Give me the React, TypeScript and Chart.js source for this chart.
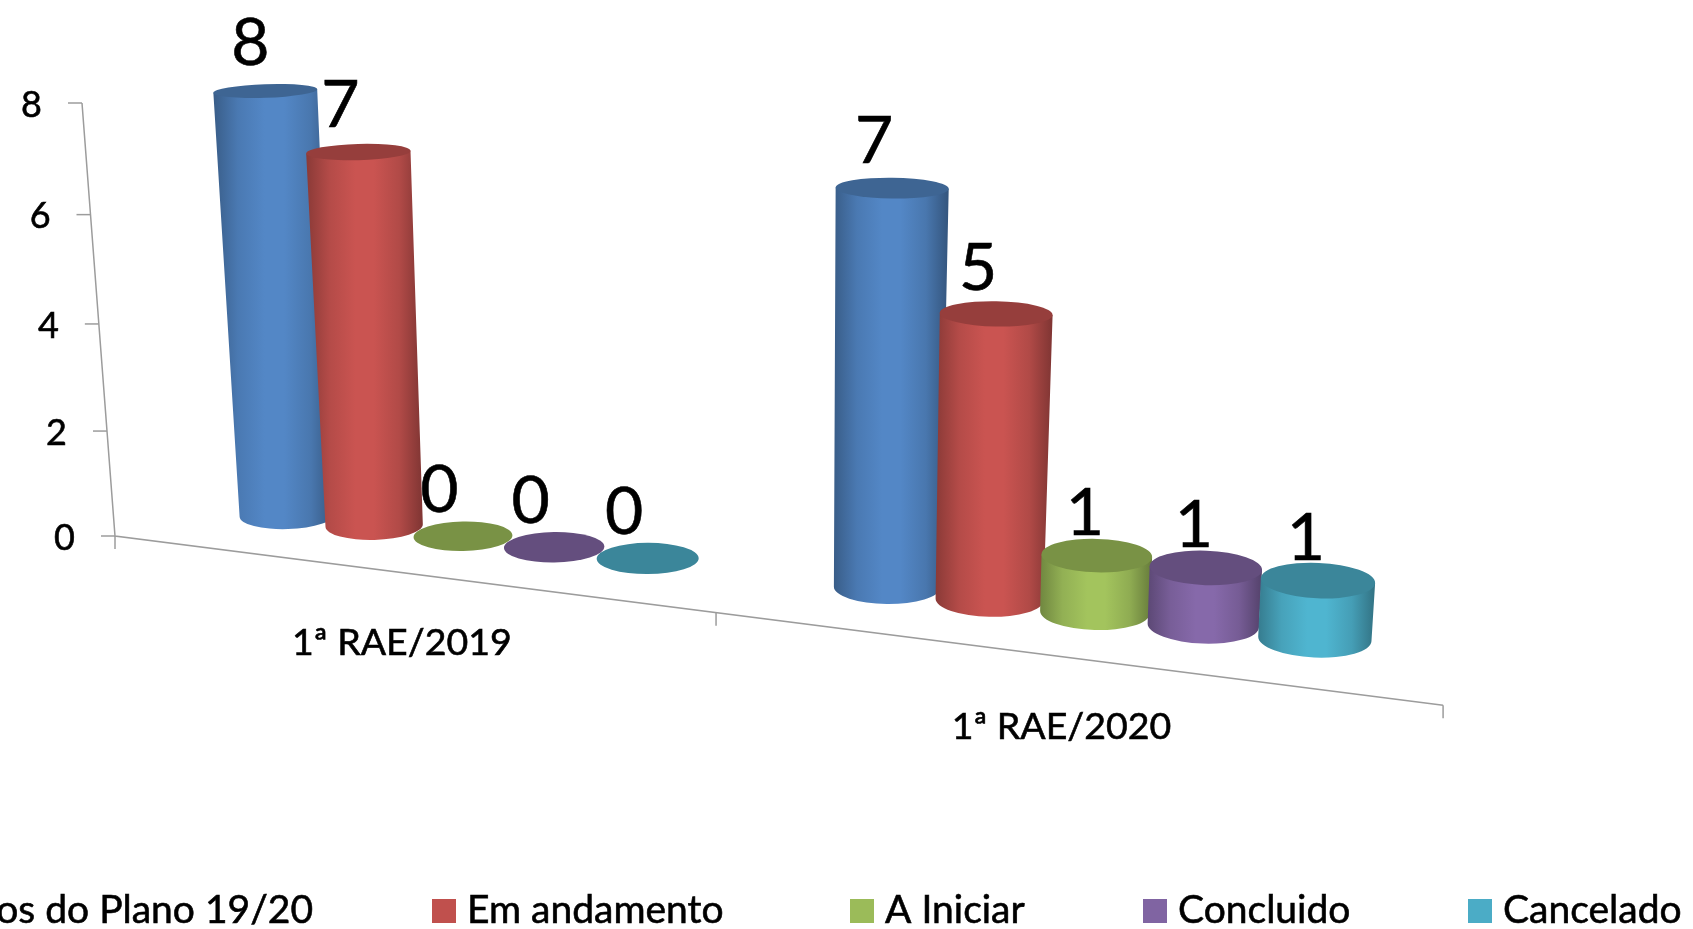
import React, { useEffect, useRef } from "react";
import { Chart, registerables } from "chart.js";

Chart.register(...registerables);

const categories = ["1ª RAE/2019", "1ª RAE/2020"];
const seriesNames = ["Projetos do Plano 19/20", "Em andamento", "A Iniciar", "Concluido", "Cancelado"];
const totalPlano = [8, 7];
const emAndamento = [7, 5];
const aIniciar = [0, 1];
const concluido = [0, 1];
const cancelado = [0, 1];
const seriesColors = ["#4F81BD", "#C0504D", "#9BBB59", "#8064A2", "#4BACC6"];
const yTicksMax = 8;
const yTickStep = 2;

const FONT = "Lato, Carlito, sans-serif";
const AXIS_COLOR = "#9C9C9C";

function shade(hex: string, f: number) {
  const n = parseInt(hex.slice(1), 16);
  const c = [(n >> 16) & 255, (n >> 8) & 255, n & 255].map((v) => Math.max(0, Math.min(255, Math.round(v * f))));
  return `rgb(${c[0]},${c[1]},${c[2]})`;
}

// Perspective of the 3-D view, applied to what the Chart.js scales give.
const persp = (v: number) => v / (1 + 0.042 * (1 - v / 8));
const axisX = (u: number) => (1078 * u + 115) / (1 - 0.1733 * u);
const axisY = (x: number) => 536 + 0.1275 * (x - 115);
const floorX = (u: number) => (1040.2 * u + 184.6) / (1 - 0.1585 * u);
const floorY = (x: number) => 515 + 0.1205 * (x - 287);
const unitH = (x: number) => 53.0 + 0.0072 * (x - 287);
const lean = (x: number) => -3.8 + 0.0059 * (x - 115);
const radX = (x: number, v: number) => 45.5 + 0.0085 * x + 0.5 * v;
const radY = (x: number, v: number) => 14 + 0.0045 * (x - 287) - 0.9 * v;
const tilt = (x: number) => ((-2 + (4.5 / 1053) * (x - 265)) * Math.PI) / 180;
const labelShift = (d: number) => (d === 0 ? -23.5 : d === 1 ? -12 : d === 8 ? -15 : -18);
const labelLift = (v: number) => (v === 0 ? 24 : 20 + 0.75 * v);

function drawCylinder(ctx: CanvasRenderingContext2D, u: number, v: number, color: string) {
  const bx = floorX(u);
  const by = floorY(bx);
  const p = persp(v);
  const tx = bx + lean(bx) * p;
  const ty = by - unitH(bx) * p;
  const a = tilt(bx);
  const rxT = radX(bx, v);
  const rxB = radX(bx, 0);
  const ryT = radY(bx, v);
  const ryB = radY(bx, 0);
  if (v > 0) {
    const left = Math.min(bx - rxB, tx - rxT);
    const right = Math.max(bx + rxB, tx + rxT);
    const g = ctx.createLinearGradient(left, 0, right, 0);
    g.addColorStop(0, shade(color, 0.72));
    g.addColorStop(0.2, shade(color, 0.94));
    g.addColorStop(0.42, shade(color, 1.05));
    g.addColorStop(0.58, shade(color, 1.05));
    g.addColorStop(0.8, shade(color, 0.92));
    g.addColorStop(1, shade(color, 0.66));
    ctx.beginPath();
    ctx.moveTo(tx + rxT * Math.cos(a), ty + rxT * Math.sin(a));
    ctx.lineTo(bx + rxB * Math.cos(a), by + rxB * Math.sin(a));
    ctx.ellipse(bx, by, rxB, ryB, a, 0, Math.PI, false);
    ctx.lineTo(tx - rxT * Math.cos(a), ty - rxT * Math.sin(a));
    ctx.closePath();
    ctx.fillStyle = g;
    ctx.fill();
  }
  ctx.beginPath();
  ctx.ellipse(tx, ty, rxT, ryT, a, 0, Math.PI * 2);
  ctx.fillStyle = shade(color, 0.78);
  ctx.fill();
  return { tx, ty };
}

function text(ctx: CanvasRenderingContext2D, s: string, x: number, y: number) {
  ctx.lineWidth = 0.6;
  ctx.strokeStyle = "#000";
  ctx.strokeText(s, x, y);
  ctx.fillStyle = "#000";
  ctx.fillText(s, x, y);
}

const perspectivePlugin = {
  id: "perspective",
  beforeDatasetsDraw(chart: any) {
    const ctx: CanvasRenderingContext2D = chart.ctx;
    const { left, right } = chart.chartArea;
    const yScale = chart.scales.y;
    const xScale = chart.scales.x;
    const toU = (px: number) => (px - left) / (right - left);
    const labels: { text: string; x: number; y: number }[] = [];

    ctx.save();
    // axes
    const axisStroke = () => {
      ctx.strokeStyle = AXIS_COLOR;
      ctx.lineWidth = 1.5;
    };
    axisStroke();
    const yPt = (v: number) => ({ x: 115 - (33 / 8) * persp(v), y: 536 - 54.125 * persp(v) });
    const top = yPt(yScale.max);
    const zero = yPt(0);
    ctx.beginPath();
    ctx.moveTo(top.x, top.y);
    ctx.lineTo(zero.x, zero.y);
    const endX = axisX(1);
    ctx.lineTo(endX, axisY(endX));
    ctx.stroke();

    ctx.textBaseline = "middle";
    ctx.textAlign = "right";
    ctx.font = `36px ${FONT}`;
    yScale.ticks.forEach((t: any) => {
      const p = yPt(t.value);
      axisStroke();
      ctx.beginPath();
      ctx.moveTo(p.x - 14, p.y);
      ctx.lineTo(p.x, p.y);
      ctx.stroke();
      text(ctx, String(t.value), p.x - 40, p.y + 2);
    });

    // category ticks and labels
    ctx.textAlign = "center";
    [0, 0.5, 1].forEach((u) => {
      const x = axisX(u);
      axisStroke();
      ctx.beginPath();
      ctx.moveTo(x, axisY(x));
      ctx.lineTo(x, axisY(x) + 13);
      ctx.stroke();
    });
    ctx.font = `37.5px ${FONT}`;
    chart.data.labels.forEach((name: string, i: number) => {
      const x = axisX(toU(xScale.getPixelForTick(i)));
      text(ctx, name, x, axisY(x) + 70);
    });

    // cylinders, left to right
    chart.data.labels.forEach((_: string, j: number) => {
      chart.data.datasets.forEach((ds: any, i: number) => {
        const bar = chart.getDatasetMeta(i).data[j];
        const v = yScale.getValueForPixel(bar.y);
        const { tx, ty } = drawCylinder(ctx, toU(bar.x), v, ds.backgroundColor);
        labels.push({ text: String(ds.data[j]), x: tx + labelShift(ds.data[j]), y: ty - labelLift(ds.data[j]) });
      });
    });

    // value labels
    ctx.font = `66px ${FONT}`;
    ctx.textAlign = "center";
    ctx.textBaseline = "alphabetic";
    labels.forEach((l) => text(ctx, l.text, l.x, l.y));

    // legend; its first entry runs off the left edge of the page
    const legendEnd = 313;
    const legendStarts = [0, 432, 850, 1143, 1468];
    ctx.font = `39px ${FONT}`;
    ctx.textAlign = "left";
    chart.data.datasets.forEach((ds: any, i: number) => {
      const w = ctx.measureText(ds.label).width;
      const sx = i === 0 ? legendEnd - w - 35 : legendStarts[i];
      ctx.fillStyle = ds.backgroundColor;
      ctx.fillRect(sx, 899, 24, 24);
      text(ctx, ds.label, sx + 35, 923);
    });
    ctx.restore();
    return false;
  },
};

export default function App() {
  const ref = useRef<HTMLCanvasElement | null>(null);
  useEffect(() => {
    if (!ref.current) return;
    const values = [totalPlano, emAndamento, aIniciar, concluido, cancelado];
    const chart = new Chart(ref.current, {
      type: "bar",
      data: {
        labels: categories,
        datasets: seriesNames.map((label, i) => ({
          label,
          data: values[i],
          backgroundColor: seriesColors[i],
        })),
      },
      options: {
        animation: false,
        responsive: false,
        maintainAspectRatio: false,
        events: [],
        layout: { padding: { left: 115, right: 250, top: 103, bottom: 393 } },
        datasets: { bar: { categoryPercentage: 0.776, barPercentage: 1 } },
        plugins: { legend: { display: false }, tooltip: { enabled: false }, title: { display: false } },
        scales: {
          x: { display: false },
          y: { display: false, min: 0, max: yTicksMax, ticks: { stepSize: yTickStep } },
        },
      },
      plugins: [perspectivePlugin],
    } as any);
    return () => chart.destroy();
  }, []);
  return (
    <div style={{ position: "fixed", left: 0, top: 0, width: 1693, height: 929, background: "#fff", overflow: "hidden" }}>
      <canvas ref={ref} width={1693} height={929} style={{ display: "block", width: 1693, height: 929 }} />
    </div>
  );
}
